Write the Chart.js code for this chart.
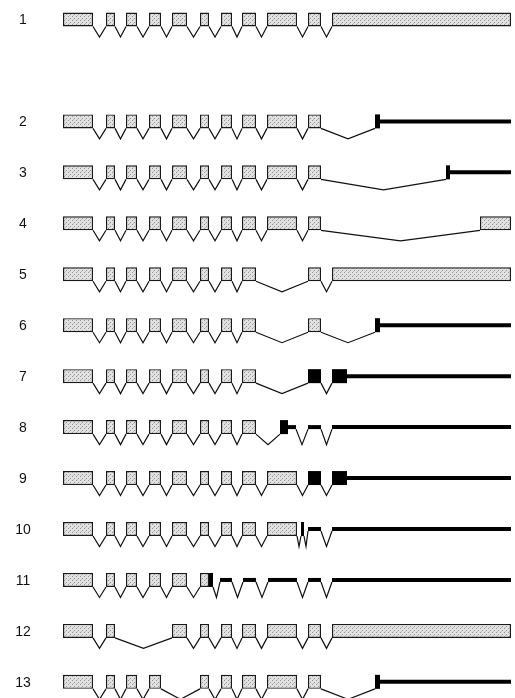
<!DOCTYPE html>
<html>
<head>
<meta charset="utf-8">
<script src="https://cdn.jsdelivr.net/npm/chart.js@4.4.0/dist/chart.umd.min.js"></script>
<style>
html, body { margin: 0; padding: 0; background: #fff; }
#wrap { width: 515px; height: 698px; position: relative; }
</style>
</head>
<body>
<div id="wrap"><canvas id="geneChart"></canvas></div>
<script>
// Transcript rows (label + vertical slot; row 1 sits apart from the rest)
const rowLabels = ['1', '2', '3', '4', '5', '6', '7', '8', '9', '10', '11', '12', '13'];
const rowPos = [0, 2, 3, 4, 5, 6, 7, 8, 9, 10, 11, 12, 13];

// Segments per row: [start, end, kind]
// kind: 'e' = stippled exon, 'b' = black block, 't' = thick line
const row1 = [[63, 93, 'e'], [106, 115, 'e'], [126, 137, 'e'], [149, 161, 'e'], [172, 187, 'e'], [200, 209, 'e'], [221, 232, 'e'], [242, 256, 'e'], [267, 297, 'e'], [308, 321, 'e'], [332, 511, 'e']];
const row2 = [[63, 93, 'e'], [106, 115, 'e'], [126, 137, 'e'], [149, 161, 'e'], [172, 187, 'e'], [200, 209, 'e'], [221, 232, 'e'], [242, 256, 'e'], [267, 297, 'e'], [308, 321, 'e'], [375, 380, 'b'], [380, 511, 't']];
const row3 = [[63, 93, 'e'], [106, 115, 'e'], [126, 137, 'e'], [149, 161, 'e'], [172, 187, 'e'], [200, 209, 'e'], [221, 232, 'e'], [242, 256, 'e'], [267, 297, 'e'], [308, 321, 'e'], [446, 450, 'b'], [450, 511, 't']];
const row4 = [[63, 93, 'e'], [106, 115, 'e'], [126, 137, 'e'], [149, 161, 'e'], [172, 187, 'e'], [200, 209, 'e'], [221, 232, 'e'], [242, 256, 'e'], [267, 297, 'e'], [308, 321, 'e'], [480, 511, 'e']];
const row5 = [[63, 93, 'e'], [106, 115, 'e'], [126, 137, 'e'], [149, 161, 'e'], [172, 187, 'e'], [200, 209, 'e'], [221, 232, 'e'], [242, 256, 'e'], [308, 321, 'e'], [332, 511, 'e']];
const row6 = [[63, 93, 'e'], [106, 115, 'e'], [126, 137, 'e'], [149, 161, 'e'], [172, 187, 'e'], [200, 209, 'e'], [221, 232, 'e'], [242, 256, 'e'], [308, 321, 'e'], [375, 380, 'b'], [380, 511, 't']];
const row7 = [[63, 93, 'e'], [106, 115, 'e'], [126, 137, 'e'], [149, 161, 'e'], [172, 187, 'e'], [200, 209, 'e'], [221, 232, 'e'], [242, 256, 'e'], [308, 321, 'b'], [332, 347, 'b'], [347, 511, 't']];
const row8 = [[63, 93, 'e'], [106, 115, 'e'], [126, 137, 'e'], [149, 161, 'e'], [172, 187, 'e'], [200, 209, 'e'], [221, 232, 'e'], [242, 256, 'e'], [280, 288, 'b'], [288, 296, 't'], [308, 321, 't'], [332, 511, 't']];
const row9 = [[63, 93, 'e'], [106, 115, 'e'], [126, 137, 'e'], [149, 161, 'e'], [172, 187, 'e'], [200, 209, 'e'], [221, 232, 'e'], [242, 256, 'e'], [267, 297, 'e'], [308, 321, 'b'], [332, 347, 'b'], [347, 511, 't']];
const row10 = [[63, 93, 'e'], [106, 115, 'e'], [126, 137, 'e'], [149, 161, 'e'], [172, 187, 'e'], [200, 209, 'e'], [221, 232, 'e'], [242, 256, 'e'], [267, 297, 'e'], [301, 304, 'b'], [308, 321, 't'], [332, 511, 't']];
const row11 = [[63, 93, 'e'], [106, 115, 'e'], [126, 137, 'e'], [149, 161, 'e'], [172, 187, 'e'], [200, 209, 'e'], [209, 213, 'b'], [220, 232, 't'], [243, 256, 't'], [268, 297, 't'], [308, 321, 't'], [332, 511, 't']];
const row12 = [[63, 93, 'e'], [106, 115, 'e'], [172, 187, 'e'], [200, 209, 'e'], [221, 232, 'e'], [242, 256, 'e'], [267, 297, 'e'], [308, 321, 'e'], [332, 511, 'e']];
const row13 = [[63, 93, 'e'], [106, 115, 'e'], [126, 137, 'e'], [149, 161, 'e'], [200, 209, 'e'], [221, 232, 'e'], [242, 256, 'e'], [267, 297, 'e'], [308, 321, 'e'], [375, 380, 'b'], [380, 511, 't']];

const rows = [row1, row2, row3, row4, row5, row6, row7, row8, row9, row10, row11, row12, row13];

// drawing sizes (px)
const ROW_PX = 50.95;
const EXON_H = 14;
const THICK_H = 4;
const DIP_PX = 17.5;
const yMin = -19.5 / ROW_PX;
const yMax = yMin + 698 / ROW_PX;

// stipple fill for exons
function makeStipple() {
    const c = document.createElement('canvas');
    c.width = 4; c.height = 4;
    const g = c.getContext('2d');
    g.fillStyle = '#e2e2e2';
    g.fillRect(0, 0, 4, 4);
    g.fillStyle = '#959595';
    g.fillRect(0, 0, 1, 1);
    g.fillRect(2, 2, 1, 1);
    g.fillStyle = '#bdbdbd';
    g.fillRect(1, 3, 1, 1);
    return g.createPattern(c, 'repeat');
}
const stipple = makeStipple();

const exonBars = [], blackBars = [], thickBars = [];
const intronSets = [];

rows.forEach((segs, r) => {
    const y = rowPos[r];
    segs.forEach(s => {
        const item = { x: [s[0], s[1]], y: y };
        if (s[2] === 'e') exonBars.push(item);
        else if (s[2] === 'b') blackBars.push(item);
        else thickBars.push(item);
    });
    // introns: V between separated segments
    for (let i = 1; i < segs.length; i++) {
        const a = segs[i - 1], b = segs[i];
        if (b[0] - a[1] <= 1) continue;
        const ha = (a[2] === 't' ? THICK_H : EXON_H) / 2 / ROW_PX;
        const hb = (b[2] === 't' ? THICK_H : EXON_H) / 2 / ROW_PX;
        intronSets.push({
            type: 'line',
            data: [
                { x: a[1], y: y + ha },
                { x: (a[1] + b[0]) / 2, y: y + DIP_PX / ROW_PX },
                { x: b[0], y: y + hb }
            ],
            borderColor: '#111',
            borderWidth: 1.2,
            pointRadius: 0,
            fill: false,
            tension: 0,
            order: 5
        });
    }
});

const rowLabelPlugin = {
    id: 'rowLabels',
    afterDraw(chart) {
        const ctx = chart.ctx;
        const yScale = chart.scales.y;
        ctx.save();
        ctx.font = '14px "Liberation Sans", Arial, sans-serif';
        ctx.fillStyle = '#111';
        ctx.textAlign = 'center';
        ctx.textBaseline = 'middle';
        rowLabels.forEach((lab, i) => {
            ctx.fillText(lab, 23, yScale.getPixelForValue(rowPos[i]) + 1);
        });
        ctx.restore();
    }
};

const ctx = document.getElementById('geneChart').getContext('2d');

new Chart(ctx, {
    type: 'bar',
    data: {
        datasets: [
            ...intronSets,
            {
                indexAxis: 'y',
                data: exonBars,
                backgroundColor: stipple,
                borderColor: '#1a1a1a',
                borderWidth: 1.4,
                borderSkipped: false,
                grouped: false,
                maxBarThickness: EXON_H,
                order: 3
            },
            {
                indexAxis: 'y',
                data: blackBars,
                backgroundColor: '#000',
                borderWidth: 0,
                grouped: false,
                maxBarThickness: EXON_H,
                order: 2
            },
            {
                indexAxis: 'y',
                data: thickBars,
                backgroundColor: '#000',
                borderWidth: 0,
                grouped: false,
                maxBarThickness: THICK_H,
                order: 1
            }
        ]
    },
    options: {
        responsive: true,
        maintainAspectRatio: false,
        animation: false,
        layout: { padding: 0 },
        plugins: {
            legend: { display: false },
            tooltip: { enabled: false }
        },
        scales: {
            x: { type: 'linear', min: 0, max: 515, offset: false, display: false },
            y: { type: 'linear', min: yMin, max: yMax, reverse: true, offset: false, display: false }
        }
    },
    plugins: [rowLabelPlugin]
});
</script>
</body>
</html>
